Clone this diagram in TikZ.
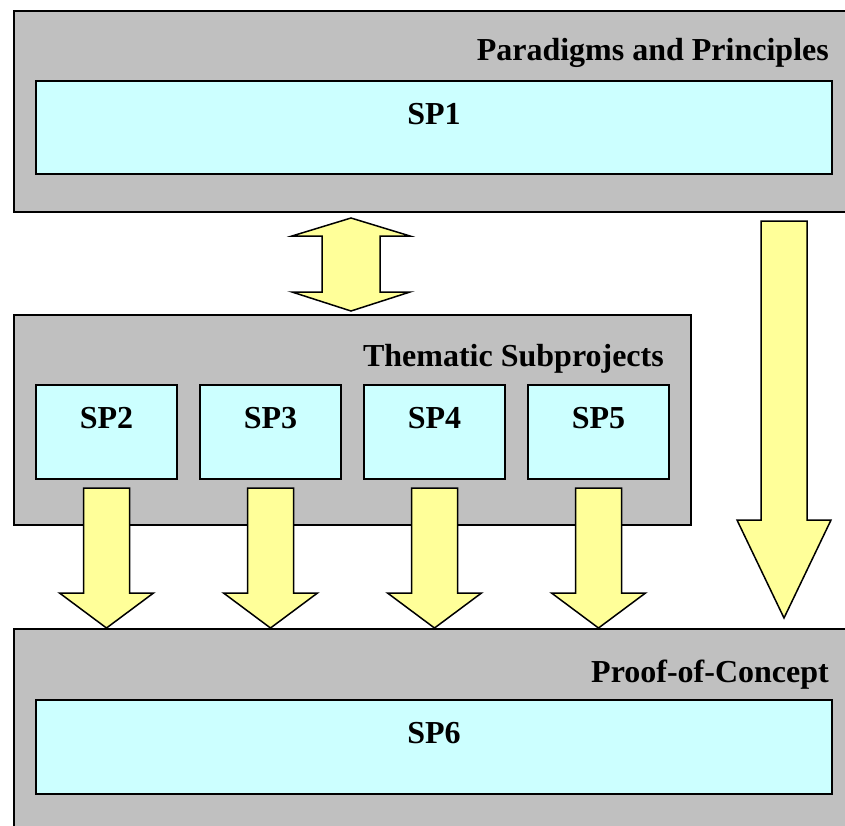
\documentclass[tikz,border=0pt]{standalone}
\usepackage{fontspec}
\setmainfont{Liberation Serif}
\usetikzlibrary{calc}
\definecolor{boxgray}{HTML}{C0C0C0}
\definecolor{spcyan}{HTML}{CCFFFF}
\definecolor{arrowyellow}{HTML}{FFFF99}

\tikzset{
  outerbox/.style={draw=black, fill=boxgray, line width=1.5pt, inner sep=0pt, anchor=north west},
  spbox/.style={draw=black, fill=spcyan, line width=2pt, inner sep=0pt, anchor=north west},
  sptext/.style={font=\bfseries\fontsize{32}{38}\selectfont, inner sep=0pt, anchor=base},
  grouptitle/.style={font=\bfseries\fontsize{32}{38}\selectfont, inner sep=0pt, anchor=base east},
  bigarrow/.style={draw=black, fill=arrowyellow, line width=1.5pt, line join=miter},
}

\begin{document}
\begin{tikzpicture}[x=1pt,y=-1pt]
    \useasboundingbox (0,0) rectangle (845,825);
    \clip (0,0) rectangle (845,825);
    % groups
    \node[outerbox, minimum width=880pt, minimum height=201pt] (pp) at (13,10) {};
    \node[outerbox, minimum width=677pt, minimum height=210pt] (ts) at (13,314) {};
    \node[outerbox, minimum width=880pt, minimum height=250pt] (poc) at (13,628) {};
    \node[grouptitle] (pptitle) at (829,60) {Paradigms and Principles};
    \node[grouptitle] (tstitle) at (664,366) {Thematic Subprojects};
    \node[grouptitle] (poctitle) at (829,682) {Proof-of-Concept};
    % subprojects
    \node[spbox, minimum width=796pt, minimum height=93pt] (sp1) at (35,80) {};
    \foreach \i/\x in {2/35,3/199,4/363,5/527}
        \node[spbox, minimum width=141pt, minimum height=94pt] (sp\i) at (\x,384) {};
    \node[spbox, minimum width=796pt, minimum height=94pt] (sp6) at (35,699) {};
    \foreach \i in {1,...,6}
        \node[sptext] (lbl\i) at ($(sp\i.north)+(0,44)$) {SP\i};
    % arrows
    \coordinate (dtop) at (351,218);
    \coordinate (dbot) at (351,311);
    \filldraw[bigarrow] (dtop) -- ($(dtop)+(59,18)$) -- ($(dtop)+(29,18)$) -- ($(dbot)+(29,-19)$)
        -- ($(dbot)+(59,-19)$) -- (dbot) -- ($(dbot)+(-59,-19)$) -- ($(dbot)+(-29,-19)$)
        -- ($(dtop)+(-29,18)$) -- ($(dtop)+(-59,18)$) -- cycle;
    \coordinate (rtop) at (784,221);
    \coordinate (rtip) at (784,618);
    \filldraw[bigarrow] ($(rtop)+(-23,0)$) -- ($(rtop)+(23,0)$) -- ($(rtip)+(23,-98)$)
        -- ($(rtip)+(47,-98)$) -- (rtip) -- ($(rtip)+(-47,-98)$) -- ($(rtip)+(-23,-98)$) -- cycle;
    \foreach \n in {sp2,sp3,sp4,sp5}
        \filldraw[bigarrow] ($(\n.south)+(-23,8)$) -- ($(\n.south)+(23,8)$)
            -- ($(\n.south |- poc.north)+(23,-35)$) -- ($(\n.south |- poc.north)+(47,-35)$)
            -- (\n.south |- poc.north) -- ($(\n.south |- poc.north)+(-47,-35)$)
            -- ($(\n.south |- poc.north)+(-23,-35)$) -- cycle;
\end{tikzpicture}
\end{document}
